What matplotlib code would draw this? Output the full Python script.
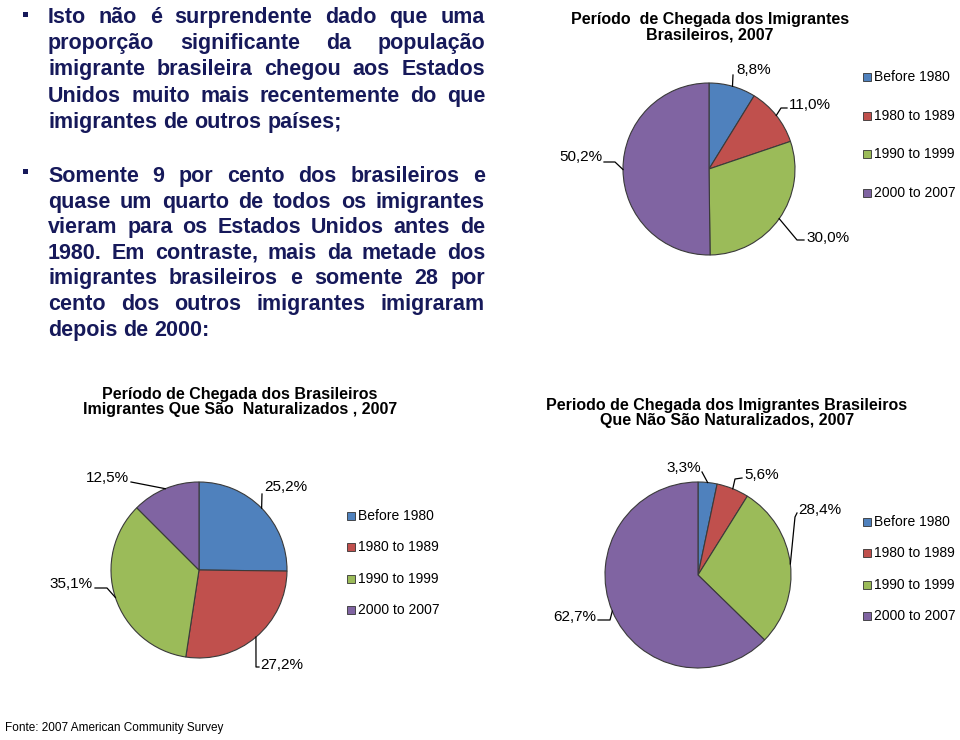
import numpy as np
import matplotlib
matplotlib.use('Agg')
import matplotlib.pyplot as plt
from matplotlib.patches import Rectangle
from matplotlib.lines import Line2D

plt.rcParams['font.family'] = ['Liberation Sans', 'DejaVu Sans']

# data
periods = ['Before 1980', '1980 to 1989', '1990 to 1999', '2000 to 2007']
colors = ['#4F81BD', '#C0504D', '#9BBB59', '#8064A2']

all_brazilians = [8.8, 11.0, 30.0, 50.2]
naturalized = [25.2, 27.2, 35.1, 12.5]
not_naturalized = [3.3, 5.6, 28.4, 62.7]

title_all = 'Período  de Chegada dos Imigrantes\nBrasileiros, 2007'
title_nat = 'Período de Chegada dos Brasileiros\nImigrantes Que São  Naturalizados , 2007'
title_notnat = 'Periodo de Chegada dos Imigrantes Brasileiros\nQue Não São Naturalizados, 2007'

para1 = ['Isto não é surprendente dado que uma',
         'proporção significante da população',
         'imigrante brasileira chegou aos Estados',
         'Unidos muito mais recentemente do que',
         'imigrantes de outros países;']
para2 = ['Somente 9 por cento dos brasileiros e',
         'quase um quarto de todos os imigrantes',
         'vieram para os Estados Unidos antes de',
         '1980. Em contraste, mais da metade dos',
         'imigrantes brasileiros e somente 28 por',
         'cento dos outros imigrantes imigraram',
         'depois de 2000:']
source = 'Fonte: 2007 American Community Survey'

W, H = 960, 740
navy = '#16195a'
fig = plt.figure(figsize=(9.6, 7.4), dpi=100)


def fx(x):
    return x / W


def fy(y):
    return 1 - y / H


def draw_pie(values, cx, cy, r, labels, title, title_xy, sq_x, leg_y0, leg_dy):
    ax = fig.add_axes([fx(cx - r), fy(cy + r), 2 * r / W, 2 * r / H])
    wedges, _ = ax.pie(values, colors=colors, startangle=90, counterclock=False,
                       wedgeprops=dict(edgecolor='#3a3a3a', linewidth=0.8))
    ax.set_xlim(-1, 1)
    ax.set_ylim(-1, 1)
    ax.set_aspect('equal')
    ax.axis('off')

    # value labels with leader lines
    for w, v, (tx, ty, ha, pts) in zip(wedges, values, labels):
        ang = np.deg2rad((w.theta1 + w.theta2) / 2)
        ex, ey = cx + r * np.cos(ang), cy - r * np.sin(ang)
        xs = [ex] + [p[0] for p in pts]
        ys = [ey] + [p[1] for p in pts]
        fig.add_artist(Line2D([fx(x) for x in xs], [fy(y) for y in ys],
                              transform=fig.transFigure, color='black', lw=0.9))
        fig.text(fx(tx), fy(ty), ('%.1f%%' % v).replace('.', ','), ha=ha, va='center',
                 fontsize=11)

    fig.text(fx(title_xy[0]), fy(title_xy[1]), title, ha='center', va='center',
             fontsize=11.5, fontweight='bold', linespacing=1.05)

    # legend
    for i, (lab, col) in enumerate(zip(periods, colors)):
        y = leg_y0 + i * leg_dy
        fig.add_artist(Rectangle((fx(sq_x), fy(y + 4)), 8 / W, 8 / H, transform=fig.transFigure,
                                 facecolor=col, edgecolor='#333333', lw=0.6))
        fig.text(fx(sq_x + 11), fy(y), lab, va='center', fontsize=10)


def justified(lines, x0, x1, y0, dy, size=15.5):
    renderer = fig.canvas.get_renderer()
    for k, line in enumerate(lines):
        words = line.split()
        y = y0 + k * dy
        texts = [fig.text(0, fy(y), w, fontsize=size, fontweight='bold', color=navy,
                          va='baseline') for w in words]
        widths = [t.get_window_extent(renderer).width for t in texts]
        if k == len(lines) - 1:
            gap = 0.278 * size * 100 / 72
        else:
            gap = (x1 - x0 - sum(widths)) / (len(words) - 1)
        x = x0
        for t, wd in zip(texts, widths):
            t.set_x(fx(x))
            x += wd + gap


# text block
justified(para1, 48, 485, 23, 26.2)
justified(para2, 48, 485, 182, 25.6)
for by in [12, 169]:
    fig.add_artist(Rectangle((fx(23), fy(by + 5)), 5 / W, 5 / H, transform=fig.transFigure,
                             facecolor=navy, edgecolor='none'))

# pies
draw_pie(all_brazilians, 709, 169, 86,
         [(736, 70, 'left', [(733, 75)]),
          (789, 105, 'left', [(781, 108), (787, 108)]),
          (806, 238, 'left', [(797, 240), (804, 240)]),
          (602, 157, 'right', [(615, 162), (604, 162)])],
         title_all, (710, 27), 863, 77, 38.7)

draw_pie(naturalized, 199, 570, 88,
         [(264, 487, 'left', [(262, 494)]),
          (260, 665, 'left', [(256, 667), (259, 667)]),
          (93, 584, 'right', [(107, 588), (95, 588)]),
          (129, 478, 'right', [(131, 482)])],
         title_nat, (240, 402), 347, 516, 31.3)

draw_pie(not_naturalized, 698, 575, 93,
         [(701, 468, 'right', [(702, 472)]),
          (744, 475, 'left', [(735, 479), (742, 478)]),
          (798, 510, 'left', [(795, 517), (797, 513)]),
          (596, 617, 'right', [(610, 620), (598, 620)])],
         title_notnat, (727, 413), 863, 522, 31.3)

fig.text(fx(5), fy(728), source, fontsize=8.5, va='center')

fig.savefig('out.png', dpi=100)
